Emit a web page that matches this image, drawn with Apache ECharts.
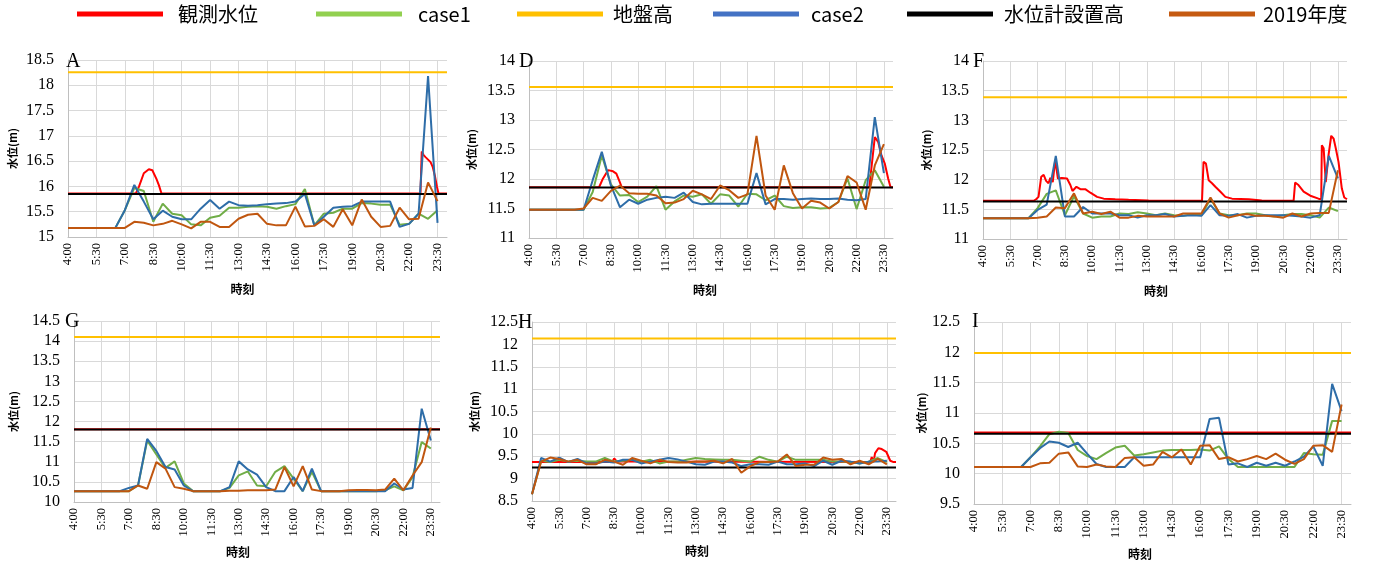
<!DOCTYPE html>
<html>
<head>
<meta charset="utf-8">
<script src="https://cdn.jsdelivr.net/npm/echarts@6/dist/echarts.min.js"></script>
<style>
  html, body { margin: 0; padding: 0; background: #fff; }
  #chart { width: 1376px; height: 562px; }
</style>
</head>
<body>
<div id="chart"></div>
<script>
// ---- time axis: one category per minute, 4:00 .. 24:00 ----
const startHour = 4;
const endHour = 24;
const minuteLabels = [];
for (let m = 0; m <= (endHour - startHour) * 60; m++) {
  const h = startHour + Math.floor(m / 60);
  minuteLabels.push(h + ':' + String(m % 60).padStart(2, '0'));
}
// half-hourly simulation output times (4:00 .. 23:30)
const simTimes = minuteLabels.filter((t, i) => i % 30 === 0 && i < 1200);

// ---- Site A ----
const siteA_case1 = [15.18,15.18,15.18,15.18,15.18,15.18,15.53,15.97,15.91,15.30,15.66,15.46,15.43,15.25,15.23,15.38,15.42,15.58,15.58,15.60,15.61,15.60,15.56,15.61,15.65,15.95,15.23,15.46,15.48,15.56,15.56,15.67,15.66,15.64,15.64,15.24,15.26,15.46,15.36,15.53];
const siteA_case2 = [15.18,15.18,15.18,15.18,15.18,15.18,15.53,16.03,15.70,15.35,15.52,15.40,15.35,15.35,15.56,15.73,15.56,15.70,15.63,15.62,15.63,15.65,15.66,15.67,15.70,15.85,15.23,15.40,15.58,15.60,15.61,15.70,15.70,15.70,15.70,15.20,15.26,15.46,18.18,15.28];
const siteA_2019 = [15.18,15.18,15.18,15.18,15.18,15.18,15.18,15.30,15.28,15.23,15.26,15.32,15.25,15.17,15.30,15.30,15.20,15.20,15.36,15.44,15.46,15.26,15.23,15.23,15.60,15.21,15.22,15.35,15.20,15.55,15.23,15.74,15.40,15.20,15.22,15.58,15.35,15.36,16.08,15.71];
const siteA_obs = [['4:00',15.86],['7:35',15.86],['7:45',16.00],['8:00',16.26],['8:16',16.34],['8:27',16.32],['8:40',16.15],['8:48',16.02],['8:56',15.86],['22:36',15.86],['22:40',16.69],['22:46',16.62],['22:52',16.58],['23:00',16.53],['23:08',16.48],['23:15',16.38],['23:22',16.20],['23:28',16.00],['23:33',15.86],['24:00',15.86]];
const siteA_ground = 18.26;
const siteA_gauge = 15.85;

// ---- Site D ----
const siteD_case1 = [11.48,11.48,11.48,11.48,11.48,11.48,11.48,11.78,12.40,11.91,11.72,11.73,11.61,11.70,11.88,11.48,11.62,11.72,11.70,11.74,11.58,11.74,11.72,11.53,11.75,11.74,11.64,11.72,11.54,11.51,11.52,11.52,11.50,11.51,11.61,12.01,11.49,11.98,12.15,11.87];
const siteD_case2 = [11.48,11.48,11.48,11.48,11.48,11.48,11.48,11.98,12.46,11.89,11.52,11.65,11.58,11.65,11.68,11.70,11.68,11.77,11.61,11.57,11.58,11.58,11.58,11.58,11.58,12.10,11.57,11.66,11.66,11.65,11.66,11.67,11.66,11.66,11.67,11.65,11.64,11.66,13.05,12.10];
const siteD_2019 = [11.48,11.48,11.48,11.48,11.48,11.48,11.50,11.68,11.63,11.80,11.89,11.76,11.75,11.75,11.72,11.59,11.60,11.66,11.80,11.74,11.66,11.89,11.81,11.68,11.74,12.73,11.72,11.48,12.23,11.76,11.50,11.63,11.60,11.50,11.61,12.05,11.94,11.48,12.23,12.59];
const siteD_obs = [['4:00',11.86],['7:51',11.86],['8:04',12.01],['8:21',12.15],['8:37',12.13],['8:48',12.09],['8:59',11.95],['9:06',11.86],['22:42',11.86],['23:00',12.71],['23:11',12.63],['23:22',12.40],['23:33',12.26],['23:44',12.01],['23:52',11.86],['24:00',11.86]];
const siteD_ground = 13.56;
const siteD_gauge = 11.855;

// ---- Site F ----
const siteF_case1 = [11.35,11.35,11.35,11.35,11.35,11.35,11.52,11.76,11.82,11.40,11.72,11.43,11.36,11.38,11.38,11.43,11.42,11.45,11.43,11.40,11.43,11.40,11.39,11.42,11.40,11.68,11.43,11.40,11.40,11.43,11.43,11.40,11.38,11.40,11.42,11.42,11.40,11.36,11.53,11.47];
const siteF_case2 = [11.35,11.35,11.35,11.35,11.35,11.35,11.49,11.58,12.40,11.38,11.38,11.54,11.43,11.43,11.43,11.40,11.40,11.36,11.40,11.40,11.42,11.38,11.39,11.40,11.39,11.57,11.40,11.39,11.42,11.36,11.39,11.40,11.40,11.40,11.39,11.38,11.36,11.40,12.40,12.02];
const siteF_2019 = [11.35,11.35,11.35,11.35,11.35,11.35,11.36,11.38,11.53,11.52,11.77,11.43,11.46,11.42,11.46,11.36,11.36,11.39,11.38,11.38,11.38,11.38,11.43,11.43,11.43,11.70,11.43,11.36,11.40,11.42,11.39,11.39,11.38,11.36,11.43,11.38,11.43,11.44,11.44,12.16];
const siteF_obs = [['4:00',11.645],['6:47',11.645],['6:55',11.67],['7:03',11.71],['7:12',12.05],['7:20',12.08],['7:28',11.98],['7:36',11.94],['7:42',12.03],['7:50',11.96],['7:58',12.33],['8:07',12.02],['8:20',12.03],['8:37',12.02],['8:48',11.91],['8:55',11.81],['9:08',11.88],['9:21',11.84],['9:37',11.84],['9:54',11.78],['10:16',11.71],['10:38',11.68],['11:16',11.67],['12:00',11.66],['13:06',11.65],['16:02',11.645],['16:07',12.30],['16:15',12.27],['16:24',11.99],['16:35',11.94],['16:46',11.88],['17:02',11.80],['17:19',11.71],['17:41',11.68],['18:36',11.67],['19:19',11.65],['21:04',11.645],['21:09',11.95],['21:20',11.91],['21:37',11.80],['21:59',11.73],['22:26',11.68],['22:35',11.67],['22:37',12.58],['22:43',12.53],['22:50',11.96],['22:55',11.96],['22:59',12.41],['23:08',12.74],['23:16',12.69],['23:23',12.53],['23:32',12.30],['23:43',11.85],['23:51',11.70],['24:00',11.67]];
const siteF_ground = 13.39;
const siteF_gauge = 11.63;

// ---- Site G ----
const siteG_case1 = [10.27,10.27,10.27,10.27,10.27,10.27,10.27,10.41,11.53,11.18,10.85,11.01,10.46,10.27,10.27,10.27,10.27,10.35,10.66,10.76,10.41,10.39,10.75,10.89,10.58,10.27,10.75,10.27,10.27,10.27,10.27,10.27,10.27,10.27,10.29,10.39,10.29,10.62,11.49,11.33];
const siteG_case2 = [10.27,10.27,10.27,10.27,10.27,10.27,10.35,10.41,11.57,11.27,10.87,10.81,10.41,10.27,10.27,10.27,10.27,10.37,11.01,10.81,10.68,10.37,10.27,10.27,10.62,10.27,10.83,10.27,10.27,10.27,10.27,10.27,10.27,10.27,10.27,10.46,10.31,10.35,12.32,11.53];
const siteG_2019 = [10.27,10.27,10.27,10.27,10.27,10.27,10.27,10.41,10.33,10.99,10.83,10.37,10.33,10.27,10.27,10.27,10.27,10.28,10.28,10.29,10.29,10.29,10.31,10.87,10.39,10.89,10.31,10.27,10.27,10.27,10.29,10.30,10.30,10.29,10.31,10.58,10.29,10.66,10.99,11.85];
const siteG_obs = [['4:00',11.81],['24:00',11.81]];
const siteG_ground = 14.10;
const siteG_gauge = 11.80;

// ---- Site H ----
const siteH_case1 = [8.65,9.40,9.37,9.42,9.38,9.40,9.38,9.38,9.46,9.38,9.40,9.42,9.38,9.42,9.34,9.38,9.38,9.42,9.46,9.44,9.43,9.42,9.42,9.40,9.38,9.49,9.42,9.38,9.49,9.42,9.42,9.42,9.42,9.38,9.38,9.37,9.34,9.38,9.46,9.37];
const siteH_case2 = [8.65,9.46,9.38,9.47,9.37,9.44,9.34,9.34,9.38,9.36,9.42,9.42,9.34,9.38,9.42,9.46,9.43,9.38,9.32,9.31,9.38,9.38,9.36,9.28,9.32,9.32,9.31,9.38,9.32,9.32,9.34,9.28,9.40,9.31,9.40,9.38,9.34,9.38,9.38,9.40];
const siteH_2019 = [8.65,9.38,9.47,9.44,9.38,9.42,9.32,9.32,9.42,9.38,9.31,9.46,9.40,9.34,9.42,9.37,9.36,9.36,9.38,9.38,9.40,9.34,9.44,9.13,9.28,9.37,9.37,9.38,9.54,9.28,9.31,9.31,9.47,9.42,9.44,9.32,9.40,9.32,9.44,9.32];
const siteH_obs = [['4:00',9.37],['8:24',9.37],['8:31',9.45],['8:40',9.38],['22:35',9.37],['22:40',9.48],['22:46',9.37],['22:51',9.57],['23:02',9.68],['23:13',9.66],['23:28',9.60],['23:41',9.40],['23:52',9.37],['24:00',9.37]];
const siteH_ground = 12.13;
const siteH_gauge = 9.25;

// ---- Site I ----
const siteI_case1 = [10.11,10.11,10.11,10.11,10.11,10.11,10.27,10.45,10.65,10.69,10.67,10.39,10.29,10.24,10.34,10.43,10.46,10.30,10.32,10.35,10.38,10.39,10.39,10.39,10.40,10.38,10.45,10.24,10.11,10.11,10.11,10.11,10.11,10.11,10.11,10.34,10.32,10.31,10.87,10.87];
const siteI_case2 = [10.11,10.11,10.11,10.11,10.11,10.11,10.27,10.42,10.53,10.51,10.44,10.51,10.33,10.16,10.11,10.11,10.11,10.27,10.27,10.27,10.27,10.27,10.27,10.27,10.27,10.90,10.92,10.15,10.17,10.11,10.18,10.13,10.18,10.13,10.20,10.28,10.45,10.13,11.48,11.03];
const siteI_2019 = [10.11,10.11,10.11,10.11,10.11,10.11,10.11,10.17,10.18,10.33,10.35,10.12,10.11,10.15,10.12,10.11,10.26,10.27,10.13,10.15,10.36,10.27,10.40,10.15,10.46,10.47,10.24,10.27,10.20,10.24,10.29,10.24,10.33,10.23,10.16,10.24,10.46,10.47,10.36,11.14];
const siteI_obs = [['4:00',10.68],['24:00',10.68]];
const siteI_ground = 11.99;
const siteI_gauge = 10.66;

// ---- series names, in draw order ----
const seriesNames = ['観測水位', 'case1', '地盤高', 'case2', '水位計設置高', '2019年度'];
const lineColors = ['#FF0000', '#70AD47', '#FFC000', '#2E6DA8', '#000000', '#C0560F'];
const legendColors = ['#FF0000', '#92D050', '#FFC000', '#4472C4', '#000000', '#C55A11'];

const sites = [
  { letter: 'A', case1: siteA_case1, case2: siteA_case2, y2019: siteA_2019, obs: siteA_obs, ground: siteA_ground, gauge: siteA_gauge, yMin: 15, yMax: 18.5 },
  { letter: 'D', case1: siteD_case1, case2: siteD_case2, y2019: siteD_2019, obs: siteD_obs, ground: siteD_ground, gauge: siteD_gauge, yMin: 11, yMax: 14 },
  { letter: 'F', case1: siteF_case1, case2: siteF_case2, y2019: siteF_2019, obs: siteF_obs, ground: siteF_ground, gauge: siteF_gauge, yMin: 11, yMax: 14 },
  { letter: 'G', case1: siteG_case1, case2: siteG_case2, y2019: siteG_2019, obs: siteG_obs, ground: siteG_ground, gauge: siteG_gauge, yMin: 10, yMax: 14.5 },
  { letter: 'H', case1: siteH_case1, case2: siteH_case2, y2019: siteH_2019, obs: siteH_obs, ground: siteH_ground, gauge: siteH_gauge, yMin: 8.5, yMax: 12.5 },
  { letter: 'I', case1: siteI_case1, case2: siteI_case2, y2019: siteI_2019, obs: siteI_obs, ground: siteI_ground, gauge: siteI_gauge, yMin: 9.5, yMax: 12.5 }
];

// panel placement (pixels)
const panelBoxes = [
  { left: 68,  top: 60,  width: 379, height: 177, yNameGap: 50, xNameGap: 46, xNameShift: 30, letterX: 66,  letterY: 52 },
  { left: 529, top: 61,  width: 364, height: 177, yNameGap: 52, xNameGap: 46, xNameShift: 12, letterX: 519, letterY: 52 },
  { left: 983, top: 61,  width: 364, height: 178, yNameGap: 51, xNameGap: 46, xNameShift: 18, letterX: 973, letterY: 52 },
  { left: 74,  top: 321, width: 366, height: 181, yNameGap: 55, xNameGap: 44, xNameShift: 38, letterX: 65,  letterY: 312 },
  { left: 532, top: 322, width: 364, height: 179, yNameGap: 52, xNameGap: 44, xNameShift: 34, letterX: 518, letterY: 313 },
  { left: 974, top: 322, width: 377, height: 182, yNameGap: 47, xNameGap: 44, xNameShift: 45, letterX: 972, letterY: 312 }
];

const minuteIndex = t => minuteLabels.indexOf(t);
const halfHourly = values => values.map((v, i) => [minuteIndex(simTimes[i]), v]);
const observed = pairs => pairs.map(p => [minuteIndex(p[0]), p[1]]);
const level = v => [[0, v], [minuteLabels.length - 1, v]];

const serifFont = 'Liberation Serif';
const cjkFont = 'Noto Sans CJK JP';

const grids = [], xAxes = [], yAxes = [], series = [], titles = [];

sites.forEach((s, k) => {
  const b = panelBoxes[k];
  grids.push({ left: b.left, top: b.top, width: b.width, height: b.height, containLabel: false });
  xAxes.push({
    type: 'category', gridIndex: k, data: minuteLabels, boundaryGap: false,
    name: '時刻', nameLocation: 'middle', nameGap: b.xNameGap,
    nameTextStyle: { fontFamily: cjkFont, fontSize: 12, fontWeight: 'bold', color: '#000', padding: [0, b.xNameShift, 0, 0] },
    axisLine: { lineStyle: { color: '#BFBFBF', width: 1 } },
    axisTick: { show: false },
    axisLabel: { interval: 89, rotate: 90, margin: 6, fontFamily: serifFont, fontSize: 12.5, color: '#000' },
    splitLine: { show: true, interval: 89, lineStyle: { color: '#D9D9D9', width: 1 } }
  });
  yAxes.push({
    type: 'value', gridIndex: k, min: s.yMin, max: s.yMax, interval: 0.5,
    name: '水位(m)', nameLocation: 'middle', nameGap: b.yNameGap, nameRotate: 90,
    nameTextStyle: { fontFamily: cjkFont, fontSize: 11, fontWeight: 'bold', color: '#000' },
    axisLine: { show: true, lineStyle: { color: '#BFBFBF', width: 1 } },
    axisTick: { show: false },
    axisLabel: { margin: 14, fontFamily: serifFont, fontSize: 16, color: '#000' },
    splitLine: { show: true, lineStyle: { color: '#D9D9D9', width: 1 } }
  });
  const seriesData = [
    observed(s.obs),
    halfHourly(s.case1),
    level(s.ground),
    halfHourly(s.case2),
    level(s.gauge),
    halfHourly(s.y2019)
  ];
  seriesData.forEach((d, j) => {
    series.push({
      type: 'line', name: seriesNames[j], xAxisIndex: k, yAxisIndex: k,
      data: d, showSymbol: false, symbol: 'none', smooth: false,
      lineStyle: { color: lineColors[j], width: 2 },
      itemStyle: { color: lineColors[j] },
      z: 2 + j
    });
  });
  titles.push({
    text: s.letter, left: b.letterX, top: b.letterY, padding: 0,
    textStyle: { fontFamily: serifFont, fontSize: 20, fontWeight: 'normal', color: '#000' }
  });
});

// one legend entry per slot across the top
const legendSlots = [
  { left: 77,   gap: 15 },
  { left: 316,  gap: 16 },
  { left: 517,  gap: 10 },
  { left: 713,  gap: 12 },
  { left: 907,  gap: 11 },
  { left: 1169, gap: 8 }
];
const legends = legendSlots.map((slot, j) => ({
  left: slot.left, top: 4, padding: 0, orient: 'horizontal',
  itemWidth: 86, itemHeight: 5, icon: 'rect', selectedMode: false,
  data: [{ name: seriesNames[j], itemStyle: { color: legendColors[j] } }],
  textStyle: { fontFamily: cjkFont, fontSize: 20, color: '#000', padding: [0, 0, 0, slot.gap - 5] }
}));

const chart = echarts.init(document.getElementById('chart'), null, { renderer: 'canvas' });
chart.setOption({
  animation: false,
  backgroundColor: '#fff',
  title: titles,
  legend: legends,
  grid: grids,
  xAxis: xAxes,
  yAxis: yAxes,
  series: series
});
</script>
</body>
</html>
